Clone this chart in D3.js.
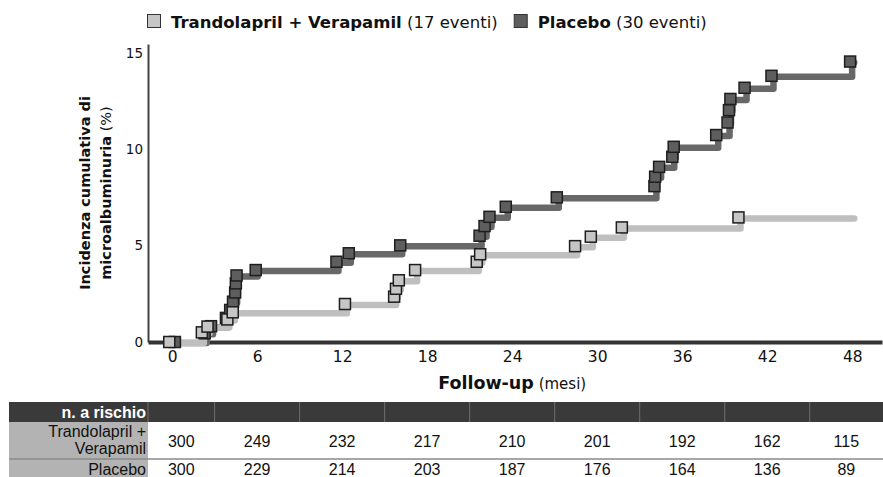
<!DOCTYPE html>
<html>
<head>
<meta charset="utf-8">
<script src="https://cdn.jsdelivr.net/npm/d3@7"></script>
<style>
  body { margin: 0; background: #fff; }
  svg { display: block; }
</style>
</head>
<body>
<svg id="chart"></svg>
<script>
// ---- data ----
const seriesNames = ['Trandolapril + Verapamil', 'Placebo'];
const eventCounts = [17, 30];
const months = [0, 6, 12, 18, 24, 30, 36, 42, 48];
const yTicks = [0, 5, 10, 15];

// Trandolapril + Verapamil: event times (months) and cumulative incidence (%)
const trvTimes  = [-0.2, 2.1, 2.5, 3.9, 4.28, 12.2, 15.67, 15.8, 16.0, 17.15, 21.5, 21.74, 28.44, 29.55, 31.74, 39.97];
const trvValues = [0, 0.5, 0.8, 1.17, 1.54, 1.97, 2.35, 2.76, 3.2, 3.73, 4.16, 4.55, 4.97, 5.46, 5.94, 6.46];

// Placebo
const plaTimes  = [0.2, 2.3, 2.75, 3.8, 4.1, 4.3, 4.45, 4.5, 4.55, 5.9, 11.6, 12.47, 16.1, 21.7, 22.05, 22.4, 23.55, 27.15,
                   34.04, 34.09, 34.37, 35.3, 35.4, 38.4, 39.2, 39.3, 39.4, 40.4, 42.3, 47.85];
const plaValues = [0, 0.45, 0.82, 1.25, 1.66, 2.09, 2.57, 3.04, 3.45, 3.73, 4.16, 4.6, 5.01, 5.51, 6.01, 6.49, 7.01, 7.5,
                   8.08, 8.57, 9.08, 9.6, 10.12, 10.73, 11.38, 12.02, 12.6, 13.18, 13.8, 14.54];

const followUpEnd = 48;

// numbers at risk
const atRiskTrv = [300, 249, 232, 217, 210, 201, 192, 162, 115];
const atRiskPla = [300, 229, 214, 203, 187, 176, 164, 136, 89];

// ---- setup ----
const W = 883, H = 477;
const chartFont = 'DejaVu Sans, Verdana, sans-serif';
const tableFont = 'Liberation Sans, Arial, sans-serif';

const svg = d3.select('#chart').attr('width', W).attr('height', H);

const x = d3.scaleLinear().domain([-1.7, 50.1]).range([148, 882]);
const y = d3.scaleLinear().domain([0, 15.45]).range([342, 44]);

const styles = [
  { line: '#bfbfbf', fill: '#c6c6c6' },
  { line: '#686868', fill: '#5e5e5e' }
];

// ---- axes ----
const xAxis = d3.axisBottom(x).tickValues(months).tickSize(0).tickSizeOuter(0).tickPadding(9);
const yAxis = d3.axisLeft(y).tickValues(yTicks).tickSize(0).tickSizeOuter(0).tickPadding(5);

const yAxisG = svg.append('g')
    .attr('transform', `translate(${x.range()[0]},0)`)
    .call(yAxis);
yAxisG.select('.domain').attr('stroke', '#444').attr('stroke-width', 2);
yAxisG.selectAll('text')
    .attr('font-family', chartFont).attr('font-size', 13.5).attr('fill', '#111');

const xAxisG = svg.append('g')
    .attr('transform', `translate(0,${y(0)})`)
    .call(xAxis);
xAxisG.select('.domain').attr('stroke', '#333').attr('stroke-width', 4);
xAxisG.selectAll('text')
    .attr('font-family', chartFont).attr('font-size', 15.5).attr('fill', '#111');

// axis titles
const yTitle = svg.append('text')
    .attr('transform', `translate(90,${(y(0) + y.range()[1]) / 2}) rotate(-90)`)
    .attr('text-anchor', 'middle')
    .attr('font-family', chartFont).attr('font-size', 14.5).attr('fill', '#111');
yTitle.append('tspan').attr('x', 0).attr('font-weight', 'bold').text('Incidenza cumulativa di');
const yT2 = yTitle.append('tspan').attr('x', 0).attr('dy', 21);
yT2.append('tspan').attr('font-weight', 'bold').text('microalbuminuria');
yT2.append('tspan').text(' (%)');

const xTitle = svg.append('text')
    .attr('x', x(24)).attr('y', 389)
    .attr('text-anchor', 'middle')
    .attr('font-family', chartFont).attr('fill', '#111');
xTitle.append('tspan').attr('font-weight', 'bold').attr('font-size', 17.5).text('Follow-up');
xTitle.append('tspan').attr('font-size', 15).text(' (mesi)');

// ---- curves ----
const series = [
  { times: trvTimes, values: trvValues },
  { times: plaTimes, values: plaValues }
].map((s, i) => {
  const pts = s.times.map((t, j) => ({ t, v: s.values[j] }));
  return { i, pts, linePts: pts.concat([{ t: followUpEnd, v: s.values[s.values.length - 1] }]) };
});

const line = d3.line()
    .curve(d3.curveStepAfter)
    .x(d => x(d.t))
    .y(d => y(d.v));

const linesG = svg.append('g').attr('transform', 'translate(2,1)');
// placebo underneath, treatment on top
[series[1], series[0]].forEach(s => {
  linesG.append('path')
      .attr('d', line(s.linePts))
      .attr('fill', 'none')
      .attr('stroke', styles[s.i].line)
      .attr('stroke-width', 6.5)
      .attr('stroke-linejoin', 'round')
      .attr('stroke-linecap', 'round');
});

const ms = 11;
[series[1], series[0]].forEach(s => {
  svg.append('g').selectAll('rect')
    .data(s.pts)
    .join('rect')
      .attr('x', d => x(d.t) - ms / 2)
      .attr('y', d => y(d.v) - ms / 2)
      .attr('width', ms)
      .attr('height', ms)
      .attr('fill', styles[s.i].fill)
      .attr('stroke', '#1e1e1e')
      .attr('stroke-width', 1.5);
});

// ---- legend ----
const legend = svg.append('g').attr('transform', 'translate(147,14)');
let lx = 0;
seriesNames.forEach((name, i) => {
  legend.append('rect')
      .attr('x', lx + 0.5).attr('y', 0.5)
      .attr('width', 13).attr('height', 13)
      .attr('fill', styles[i].fill)
      .attr('stroke', '#333').attr('stroke-width', 1);
  const t = legend.append('text')
      .attr('x', lx + 24).attr('y', 13.5)
      .attr('font-family', chartFont).attr('font-size', 16.5).attr('fill', '#111');
  t.append('tspan').attr('font-weight', 'bold').text(name);
  t.append('tspan').text(` (${eventCounts[i]} eventi)`);
  lx += 24 + t.node().getComputedTextLength() + 16;
});

// ---- risk table ----
const tableLeft = 9, tableRight = W;
const rowHeader = [402, 422], rowTrv = [422, 459], rowPla = [459, 477];
const colEdges = [x.range()[0]]
    .concat(months.slice(1).map((m, i) => (x(months[i]) + x(m)) / 2))
    .concat([tableRight]);

const table = svg.append('g');
table.append('rect')
    .attr('x', tableLeft).attr('y', rowHeader[0])
    .attr('width', tableRight - tableLeft).attr('height', rowHeader[1] - rowHeader[0])
    .attr('fill', '#3a3a3a');
table.append('rect')
    .attr('x', tableLeft).attr('y', rowTrv[0])
    .attr('width', colEdges[0] - tableLeft).attr('height', rowPla[1] - rowTrv[0])
    .attr('fill', '#b3b3b3');
table.selectAll('.sep')
  .data(colEdges.slice(0, -1))
  .join('line')
    .attr('class', 'sep')
    .attr('x1', d => d).attr('x2', d => d)
    .attr('y1', rowHeader[0]).attr('y2', rowHeader[1])
    .attr('stroke', '#6e6e6e').attr('stroke-width', 1);
table.append('line')
    .attr('x1', tableLeft).attr('x2', tableRight)
    .attr('y1', rowPla[0]).attr('y2', rowPla[0])
    .attr('stroke', '#8a8a8a').attr('stroke-width', 1.5);

const labelX = colEdges[0] - 2;
table.append('text')
    .attr('x', labelX).attr('y', 418)
    .attr('text-anchor', 'end')
    .attr('font-family', tableFont).attr('font-size', 16).attr('font-weight', 'bold')
    .attr('fill', '#fff')
    .text('n. a rischio');
const trvLabel = table.append('text')
    .attr('text-anchor', 'end')
    .attr('font-family', tableFont).attr('font-size', 16).attr('fill', '#111');
trvLabel.append('tspan').attr('x', labelX).attr('y', 437).text('Trandolapril +');
trvLabel.append('tspan').attr('x', labelX).attr('y', 453.5).text('Verapamil');
table.append('text')
    .attr('x', labelX).attr('y', 474.5)
    .attr('text-anchor', 'end')
    .attr('font-family', tableFont).attr('font-size', 16).attr('fill', '#111')
    .text('Placebo');

[[atRiskTrv, 446.5], [atRiskPla, 474.5]].forEach(([vals, yy]) => {
  table.append('g').selectAll('text')
    .data(vals)
    .join('text')
      .attr('x', (d, i) => (colEdges[i] + colEdges[i + 1]) / 2)
      .attr('y', yy)
      .attr('text-anchor', 'middle')
      .attr('font-family', tableFont).attr('font-size', 16).attr('fill', '#111')
      .text(d => d);
});
</script>
</body>
</html>
